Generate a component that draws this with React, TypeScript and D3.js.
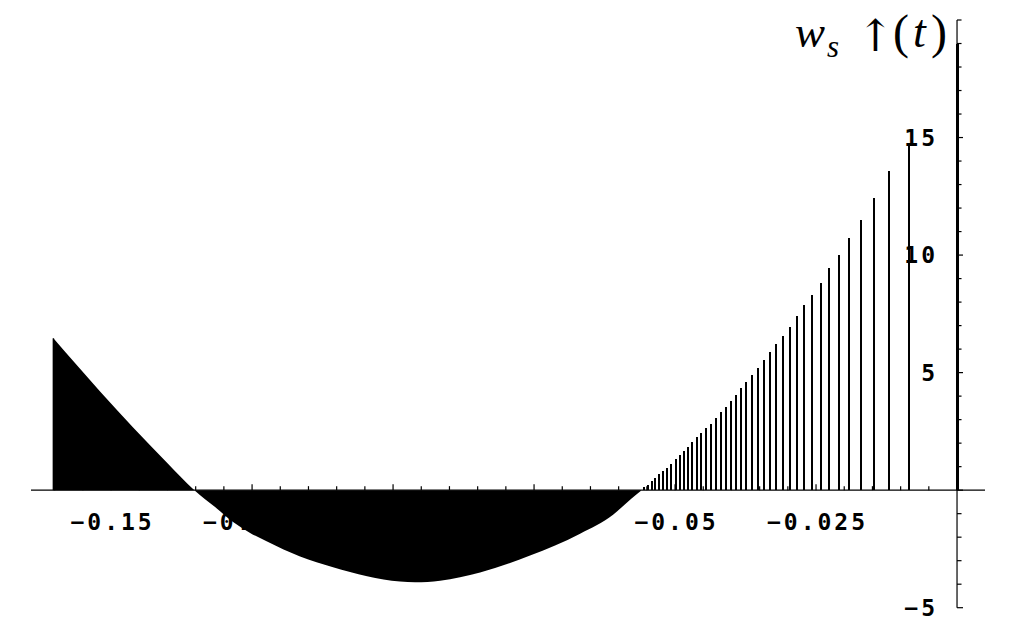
import React, { useEffect, useRef } from "react";
import * as d3 from "d3";

// discrete stems near the origin (t, w)
const stemT = [
  0, -0.00851, -0.01211, -0.01477, -0.01707, -0.0192, -0.02098, -0.0227, -0.02417,
  -0.02571, -0.02707, -0.02837, -0.02966, -0.03085, -0.03204, -0.03316, -0.03427,
  -0.03534, -0.0364, -0.03736, -0.0383, -0.03924, -0.04012, -0.04101, -0.0419,
  -0.04278, -0.04367, -0.0445, -0.04534, -0.0461, -0.04693, -0.0477, -0.04846,
  -0.04917, -0.04988, -0.05066, -0.05142, -0.05213, -0.05284, -0.05349, -0.05413,
  -0.05484, -0.05555,
];
const stemW = [
  19.0, 14.75, 13.57, 12.44, 11.5, 10.74, 10.0, 9.44, 8.82, 8.32, 7.86, 7.39, 6.96,
  6.57, 6.2, 5.86, 5.52, 5.18, 4.88, 4.59, 4.33, 4.03, 3.78, 3.54, 3.31, 3.07, 2.83,
  2.65, 2.43, 2.25, 2.04, 1.84, 1.66, 1.49, 1.32, 1.13, 0.95, 0.81, 0.67, 0.51, 0.38,
  0.24, 0.13,
];

// where the stems are so dense they merge into a solid region: outline of the tips
const denseT = [
  -0.16023, -0.15195, -0.14605, -0.14012, -0.13523, -0.13156, -0.12837, -0.12535,
  -0.12234, -0.11649, -0.11064, -0.10461, -0.09876, -0.0961, -0.09167, -0.08457,
  -0.07571, -0.06684, -0.06099, -0.05851, -0.05691, -0.05603,
];
const denseW = [
  6.46, 4.2, 2.66, 1.18, 0, -0.72, -1.35, -1.82, -2.18, -2.82, -3.28, -3.66, -3.89,
  -3.92, -3.85, -3.5, -2.78, -1.85, -1.05, -0.52, -0.2, -0.03,
];

const xTickLabels = [-0.15, -0.125, -0.1, -0.075, -0.05, -0.025];
const yTickLabels = [-5, 5, 10, 15];

const fmt = (d: number) => String(d).replace("-", "\u2212");

function App() {
  const ref = useRef(null);

  useEffect(() => {
    const svg = d3.select(ref.current);
    svg.selectAll("*").remove();

    const x = d3.scaleLinear().domain([-0.1642, 0.00496]).range([31, 985]);
    const y = d3.scaleLinear().domain([-5, 20]).range([607.7, 20]);
    const x0 = x(0);
    const y0 = y(0);

    const axes = svg.append("g").attr("stroke", "#000").attr("stroke-width", 1.2);

    // x axis
    axes.append("line").attr("x1", x.range()[0]).attr("x2", x.range()[1]).attr("y1", y0).attr("y2", y0);
    const xt = d3.range(-32, 1).map((i) => i * 0.005);
    axes
      .selectAll(".xt")
      .data(xt)
      .enter()
      .append("line")
      .attr("x1", (d) => x(d))
      .attr("x2", (d) => x(d))
      .attr("y1", y0)
      .attr("y2", (d) => (Math.abs(Math.round(d * 1000)) % 25 === 0 ? y0 - 6 : y0 - 4));

    // y axis
    axes.append("line").attr("x1", x0).attr("x2", x0).attr("y1", y(-5)).attr("y2", y(20));
    const yt = d3.range(-5, 21);
    axes
      .selectAll(".yt")
      .data(yt)
      .enter()
      .append("line")
      .attr("x1", x0)
      .attr("x2", (d) => (d % 5 === 0 && d !== 20 ? x0 + 6 : x0 + 4.5))
      .attr("y1", (d) => y(d))
      .attr("y2", (d) => y(d));

    const tickFont = "'DejaVu Sans Mono', monospace";

    svg
      .selectAll(".xl")
      .data(xTickLabels)
      .enter()
      .append("text")
      .attr("x", (d) => x(d) + 1.5)
      .attr("y", 530)
      .attr("text-anchor", "middle")
      .style("font-family", tickFont)
      .style("font-size", "23px")
      .style("font-weight", "bold")
      .style("letter-spacing", "3px")
      .text(fmt);

    svg
      .selectAll(".yl")
      .data(yTickLabels)
      .enter()
      .append("text")
      .attr("x", x0 - 19)
      .attr("y", (d) => y(d))
      .attr("dy", "0.36em")
      .attr("text-anchor", "end")
      .style("font-family", tickFont)
      .style("font-size", "23px")
      .style("font-weight", "bold")
      .style("letter-spacing", "3px")
      .text(fmt);

    // dense part drawn as a filled region between the axis and the tips
    const pts = denseT.map((t, i) => [t, denseW[i]]);
    const area = d3
      .area()
      .x((d) => x(d[0]))
      .y0(y0)
      .y1((d) => y(d[1]))
      .curve(d3.curveMonotoneX);
    svg.append("path").datum(pts).attr("d", area).attr("fill", "#000");

    // leftmost stem edge
    svg
      .append("line")
      .attr("x1", x(denseT[0]))
      .attr("x2", x(denseT[0]))
      .attr("y1", y0)
      .attr("y2", y(denseW[0]))
      .attr("stroke", "#000")
      .attr("stroke-width", 1.5);

    // individual stems
    svg
      .selectAll(".stem")
      .data(stemT.map((t, i) => [t, stemW[i]]))
      .enter()
      .append("line")
      .attr("x1", (d) => x(d[0]))
      .attr("x2", (d) => x(d[0]))
      .attr("y1", y0)
      .attr("y2", (d) => y(d[1]))
      .attr("stroke", "#000")
      .attr("stroke-width", (d) => (d[0] === 0 ? 3 : 2))
      .attr("shape-rendering", "crispEdges");

    // axis label
    const serif = "'Liberation Serif', 'DejaVu Serif', serif";
    const lab = svg.append("g").style("font-family", serif).attr("fill", "#000");
    lab.append("text").attr("x", 795).attr("y", 47).style("font-size", "45px").style("font-style", "italic").text("w");
    lab.append("text").attr("x", 827).attr("y", 57).style("font-size", "31px").style("font-style", "italic").text("s");
    lab.append("text").attr("x", 857).attr("y", 51).style("font-size", "44px").style("font-family", "'DejaVu Serif', serif").text("\u2191");
    lab.append("text").attr("x", 893).attr("y", 48).style("font-size", "48px").text("(");
    lab.append("text").attr("x", 913).attr("y", 47).style("font-size", "46px").style("font-style", "italic").text("t");
    lab.append("text").attr("x", 931).attr("y", 48).style("font-size", "48px").text(")");
  }, []);

  return (
    <div style={{ position: "absolute", left: 0, top: 0 }}>
      <svg ref={ref} width={1019} height={630} style={{ display: "block", background: "#fff" }} />
    </div>
  );
}

export default App;
